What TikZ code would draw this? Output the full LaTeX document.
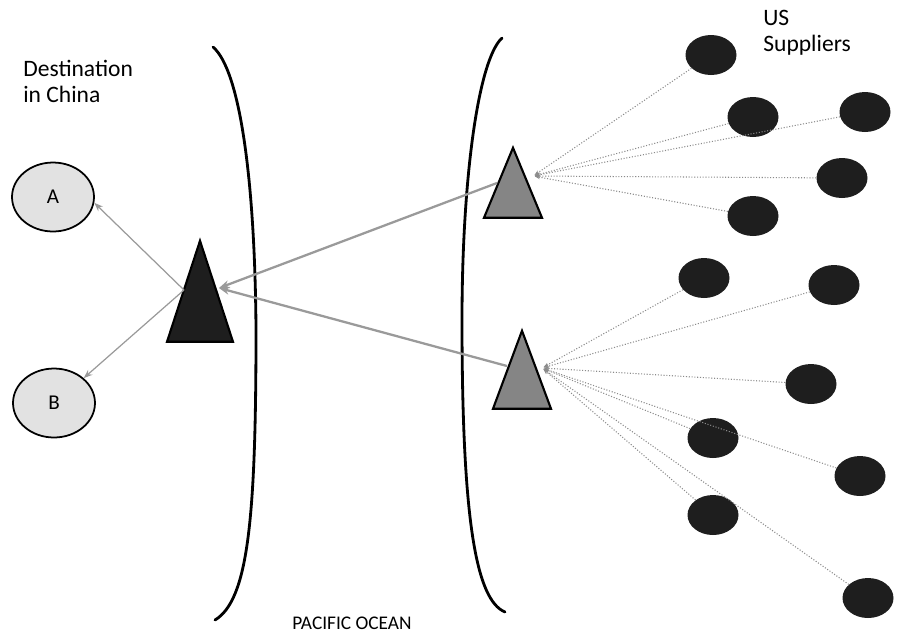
\documentclass[tikz,border=0pt]{standalone}
\usepackage{fontspec}
\setmainfont{Carlito}
\usetikzlibrary{shapes.geometric, arrows.meta, positioning, calc}
\definecolor{inkdark}{HTML}{1E1E1E}
\definecolor{portgray}{HTML}{858585}
\definecolor{destfill}{HTML}{E2E2E2}
\definecolor{linkgray}{HTML}{9A9A9A}

\begin{document}
\begin{tikzpicture}[
    x=0.02cm, y=-0.02cm,
    >=Stealth,
    dest/.style={draw, ellipse, line width=1pt, fill=destfill, minimum width=1.64cm, minimum height=1.38cm, inner sep=0pt, font=\fontsize{12}{14}\selectfont},
    supplier/.style={ellipse, fill=inkdark, minimum width=1.02cm, minimum height=0.8cm, inner sep=0pt},
    port/.style={draw, line width=1.2pt, isosceles triangle, shape border rotate=90, isosceles triangle stretches, inner sep=0pt, anchor=apex},
    label/.style={align=left, inner sep=0pt, font=\fontsize{13.4}{15}\selectfont},
    feed/.style={->, linkgray!90!black, densely dotted, line width=0.6pt, shorten >=1pt, >={Stealth[length=3pt, open]}},
    ship/.style={->, linkgray, line width=1.3pt, >={Stealth[length=6pt, open]}},
    deliver/.style={->, linkgray, line width=0.7pt, >={Stealth[length=5pt, open]}},
    shore/.style={line width=1.6pt, line cap=round}
  ]
    \useasboundingbox (0,0) rectangle (899,637);

    % coast lines
    \draw[shore] (213,47) .. controls (240,70) and (255,180) .. (256,330) .. controls (256,520) and (248,600) .. (215,620);
    \draw[shore] (502,38) .. controls (478,60) and (462,180) .. (462,320) .. controls (462,520) and (476,600) .. (505,612);

    \node[label, anchor=north west] (china) at (23,60) {Destination\\in China};
    \node[label, anchor=north west] (us) at (763,10) {US\\Suppliers};
    \node[inner sep=0pt, anchor=base, font=\fontsize{11}{12}\selectfont] (ocean) at (352,629) {PACIFIC OCEAN};

    \node[dest] (A) at (53,197) {A};
    \node[dest] (B) at (54,403) {B};

    \node[port, fill=inkdark, minimum width=1.32cm, minimum height=2.02cm] (cnport) at (200,238) {};
    \node[port, fill=portgray, minimum width=1.16cm, minimum height=1.4cm] (upport) at (513,145) {};
    \node[port, fill=portgray, minimum width=1.16cm, minimum height=1.56cm] (loport) at (522,328) {};

    \coordinate (cnin) at (219,288);
    \coordinate (cnout) at (184,290);
    \coordinate (upin) at (533,176);
    \coordinate (upout) at (497,183);
    \coordinate (loin) at (542,368);
    \coordinate (loout) at (507,366);

    \node[supplier] (s1) at (711,55) {};
    \node[supplier] (s2) at (753,117) {};
    \node[supplier] (s3) at (865,112) {};
    \node[supplier] (s4) at (842,178) {};
    \node[supplier] (s5) at (753,216) {};
    \node[supplier] (s6) at (704,278) {};
    \node[supplier] (s7) at (834,285) {};
    \node[supplier] (s8) at (811,384) {};
    \node[supplier] (s9) at (713,438) {};
    \node[supplier] (s10) at (860,476) {};
    \node[supplier] (s11) at (713,515) {};
    \node[supplier] (s12) at (868,598) {};

    \foreach \s in {s1,s2,s3,s4,s5}
      \draw[feed] (\s) -- (upin);
    \foreach \s in {s6,s7,s8,s9,s10,s11,s12}
      \draw[feed] (\s) -- (loin);

    \draw[ship] (upout) -- (cnin);
    \draw[ship] (loout) -- (cnin);
    \draw[deliver] (cnout) -- (A.-8);
    \draw[deliver] (cnout) -- (B.40);
  \end{tikzpicture}
\end{document}
